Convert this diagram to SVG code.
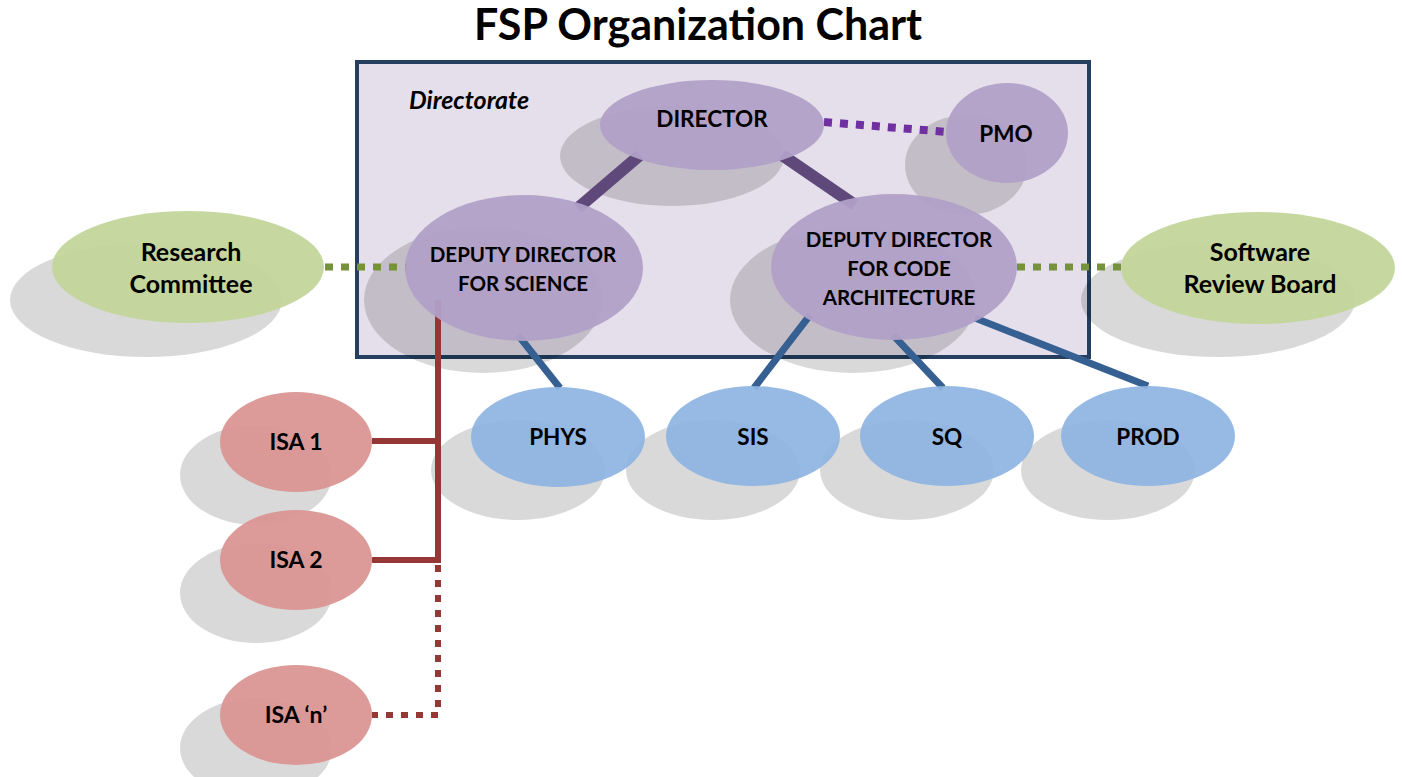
<svg xmlns="http://www.w3.org/2000/svg" width="1402" height="777" viewBox="0 0 1402 777">
<style>
text{font-family:Lato,"Open Sans","Liberation Sans",sans-serif;font-weight:bold;fill:#000;text-anchor:middle}
.sh{fill:#000;fill-opacity:0.15}
.pur{fill:#B1A0C7;fill-opacity:0.95}
.grn{fill:#C3D69B;fill-opacity:0.95}
.red{fill:#DA9694;fill-opacity:0.95}
.blu{fill:#8DB4E2;fill-opacity:0.92}
.lbl{font-size:22.5px}
.dd{font-size:20.5px}
.big{font-size:25px}
.isa{font-size:23px}
</style>
<rect width="1402" height="777" fill="#fff"/>
<text x="698" y="40" style="font-size:43px">FSP Organization Chart</text>
<g id="directorate">
<rect x="357" y="62" width="732" height="295" fill="#E5DFEC" stroke="#243F60" stroke-width="4"/>
<text x="409" y="109" style="font-size:25px;font-style:italic;text-anchor:start">Directorate</text>
</g>
<g id="shadows">
<ellipse class="sh" cx="672" cy="156" rx="112" ry="50"/>
<ellipse class="sh" cx="966" cy="165" rx="61" ry="50"/>
<ellipse class="sh" cx="483" cy="300" rx="119" ry="73"/>
<ellipse class="sh" cx="853" cy="300" rx="123" ry="73"/>
<ellipse class="sh" cx="146" cy="300" rx="136" ry="57"/>
<ellipse class="sh" cx="1218" cy="300" rx="137" ry="57"/>
<ellipse class="sh" cx="256" cy="475" rx="76" ry="50"/>
<ellipse class="sh" cx="256" cy="593" rx="76" ry="50"/>
<ellipse class="sh" cx="256" cy="748" rx="76" ry="50"/>
<ellipse class="sh" cx="518" cy="470" rx="87" ry="50"/>
<ellipse class="sh" cx="713" cy="470" rx="87" ry="50"/>
<ellipse class="sh" cx="907" cy="470" rx="87" ry="50"/>
<ellipse class="sh" cx="1108" cy="470" rx="87" ry="50"/>
</g>
<g id="connectors" fill="none">
<line x1="640" y1="155" x2="578" y2="208" stroke="#5F497A" stroke-width="12"/>
<line x1="782" y1="155" x2="855" y2="205" stroke="#5F497A" stroke-width="12"/>
<line x1="824" y1="122" x2="948" y2="132" stroke="#7030A0" stroke-width="8" stroke-dasharray="8 8"/>
<line x1="325" y1="267" x2="407" y2="267" stroke="#76923C" stroke-width="7" stroke-dasharray="8 8"/>
<line x1="1017" y1="267" x2="1122" y2="267" stroke="#76923C" stroke-width="7" stroke-dasharray="8 8"/>
<polyline points="438,300 438,560 372,560" stroke="#953735" stroke-width="6"/>
<line x1="372" y1="441" x2="438" y2="441" stroke="#953735" stroke-width="6"/>
<polyline points="438,565 438,715 372,715" stroke="#953735" stroke-width="6" stroke-dasharray="7 8"/>
<line x1="518" y1="335" x2="560" y2="388" stroke="#376092" stroke-width="7"/>
<line x1="810" y1="315" x2="754" y2="388" stroke="#376092" stroke-width="7"/>
<line x1="893" y1="335" x2="943" y2="388" stroke="#376092" stroke-width="7"/>
<line x1="975" y1="318" x2="1148" y2="386" stroke="#376092" stroke-width="7"/>
</g>
<g id="director"><ellipse class="pur" cx="712" cy="125" rx="112" ry="45"/><text class="lbl" x="712" y="127">DIRECTOR</text></g>
<g id="pmo"><ellipse class="pur" cx="1007" cy="133" rx="61" ry="50"/><text class="lbl" x="1006" y="142">PMO</text></g>
<g id="dd-science"><ellipse class="pur" cx="524" cy="268" rx="119" ry="73"/><text class="dd" x="523" y="262">DEPUTY DIRECTOR</text><text class="dd" x="523" y="291">FOR SCIENCE</text></g>
<g id="dd-code"><ellipse class="pur" cx="894" cy="267" rx="123" ry="73"/><text class="dd" x="899" y="247">DEPUTY DIRECTOR</text><text class="dd" x="899" y="276">FOR CODE</text><text class="dd" x="899" y="305">ARCHITECTURE</text></g>
<g id="research"><ellipse class="grn" cx="188" cy="267" rx="136" ry="56"/><text class="big" x="191" y="261">Research</text><text class="big" x="191" y="293">Committee</text></g>
<g id="srb"><ellipse class="grn" cx="1258" cy="268" rx="137" ry="56"/><text class="big" x="1260" y="261">Software</text><text class="big" x="1260" y="293">Review Board</text></g>
<g id="isa1"><ellipse class="red" cx="296" cy="442" rx="76" ry="50"/><text class="isa" x="296" y="450">ISA 1</text></g>
<g id="isa2"><ellipse class="red" cx="296" cy="560" rx="76" ry="50"/><text class="isa" x="296" y="568">ISA 2</text></g>
<g id="isan"><ellipse class="red" cx="296" cy="715" rx="76" ry="50"/><text class="isa" x="296" y="723">ISA ‘n’</text></g>
<g id="phys"><ellipse class="blu" cx="558" cy="437" rx="87" ry="50"/><text class="lbl" x="558" y="445">PHYS</text></g>
<g id="sis"><ellipse class="blu" cx="753" cy="436" rx="87" ry="50"/><text class="lbl" x="753" y="445">SIS</text></g>
<g id="sq"><ellipse class="blu" cx="947" cy="436" rx="87" ry="50"/><text class="lbl" x="947" y="445">SQ</text></g>
<g id="prod"><ellipse class="blu" cx="1148" cy="436" rx="87" ry="50"/><text class="lbl" x="1148" y="445">PROD</text></g>
</svg>
